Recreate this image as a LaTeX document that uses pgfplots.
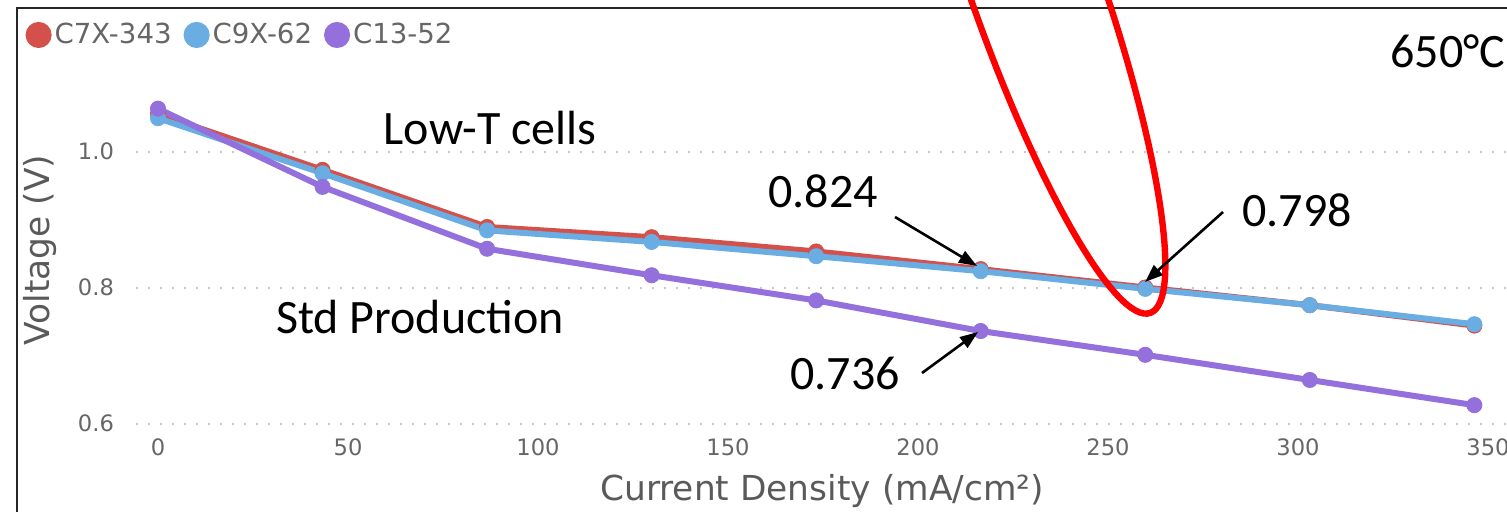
\documentclass[border=0pt]{standalone}
\usepackage{pgfplots}
\pgfplotsset{compat=1.18}
\usepackage{fontspec}
\setmainfont{DejaVu Sans}
\newfontfamily\calib{Carlito}
\usetikzlibrary{arrows.meta}
\definecolor{cred}{HTML}{D4504A}
\definecolor{cblue}{HTML}{6AADE2}
\definecolor{cpurple}{HTML}{9370DB}
\definecolor{tgray}{HTML}{666666}
\definecolor{lgray}{HTML}{5A5A5A}
\definecolor{gridc}{HTML}{C8C8C8}

\begin{document}
\begin{tikzpicture}
\useasboundingbox (0,0) rectangle (753.5pt,-256pt);
\clip (0,0) rectangle (753.5pt,-256pt);
\begin{scope}[x=0.5pt,y=-0.5pt]
\draw[line width=1pt, black!85] (16.5,520) -- (16.5,8.5) -- (1520,8.5);
\end{scope}
\begin{axis}[
  at={(68pt,-211.75pt)}, anchor=south west,
  scale only axis, width=685.5pt, height=181.75pt,
  xmin=-5.79, xmax=355, ymin=0.6, ymax=1.1346,
  axis line style={draw=none},
  major tick length=0pt,
  tick style={draw=none},
  xtick={0,50,...,350}, ytick={0.6,0.8,1.0},
  ymajorgrids,
  grid style={gridc, line width=1pt, dash pattern=on 1pt off 5pt},
  /pgf/number format/assume math mode=true,
  yticklabel style={/pgf/number format/.cd, fixed, fixed zerofill, precision=1, /tikz/.cd, xshift=-7.5pt},
  xticklabel style={yshift=-4.3pt},
  tick label style={font=\fontsize{11.3}{13}\selectfont, text=tgray},
  legend columns=-1,
  legend style={draw=none, fill=none, inner sep=0pt, outer sep=0pt,
    at={(axis description cs:-0.0805,1.0688)}, anchor=west,
    font=\fontsize{13.8}{16}\selectfont, text=tgray,
    nodes={inner sep=1.5pt},
    /tikz/every even column/.append style={column sep=4.5pt}},
  legend image code/.code={\fill[#1] (5pt,0pt) circle (5pt);},
]
\addplot[cred, line width=3pt, mark=*, mark size=3.8pt, mark options={line width=0.4pt}]
  coordinates {(0,1.055) (43.3,0.973) (86.6,0.889) (129.9,0.874) (173.2,0.853) (216.5,0.827) (259.8,0.800) (303.1,0.774) (346.4,0.744)};
\addlegendentry{C7X-343}
\addplot[cblue, line width=3pt, mark=*, mark size=3.8pt, mark options={line width=0.4pt}]
  coordinates {(0,1.049) (43.3,0.968) (86.6,0.884) (129.9,0.867) (173.2,0.846) (216.5,0.824) (259.8,0.798) (303.1,0.774) (346.4,0.746)};
\addlegendentry{C9X-62}
\addplot[cpurple, line width=3pt, mark=*, mark size=3.8pt, mark options={line width=0.4pt}]
  coordinates {(0,1.063) (43.3,0.948) (86.6,0.857) (129.9,0.818) (173.2,0.781) (216.5,0.736) (259.8,0.701) (303.1,0.664) (346.4,0.627)};
\addlegendentry{C13-52}
\end{axis}
\begin{scope}[x=0.5pt,y=-0.5pt]
\node[font=\fontsize{17.2}{19}\selectfont, text=lgray] at (822,491) {Current Density (mA/cm²)};
\node[font=\fontsize{17.2}{19}\selectfont, text=lgray, rotate=90] at (40,250) {Voltage (V)};
\begin{scope}[font=\calib\fontsize{24}{28}\selectfont]
\node[anchor=base] at (490,145) {Low-T cells};
\node[anchor=base] at (420,334) {Std Production};
\node[anchor=base] at (823,208) {0.824};
\node[anchor=base] at (1297,227) {0.798};
\node[anchor=base] at (845,390) {0.736};
\node[anchor=base west, inner sep=0pt] at (1390,68) {650°C};
\end{scope}
\draw[red, line width=3.2pt, rotate around={19.4:(1033,-20)}] (1033,-20) ellipse [x radius=65, y radius=353];
\draw[line width=1.3pt, -{Triangle[length=9pt,width=6.5pt]}] (895,217) -- (977,266);
\draw[line width=1.3pt, -{Triangle[length=9pt,width=6.5pt]}] (1223,212) -- (1145,282);
\draw[line width=1.3pt, -{Triangle[length=9pt,width=6.5pt]}] (922,373) -- (978,332);
\end{scope}
\end{tikzpicture}
\end{document}
